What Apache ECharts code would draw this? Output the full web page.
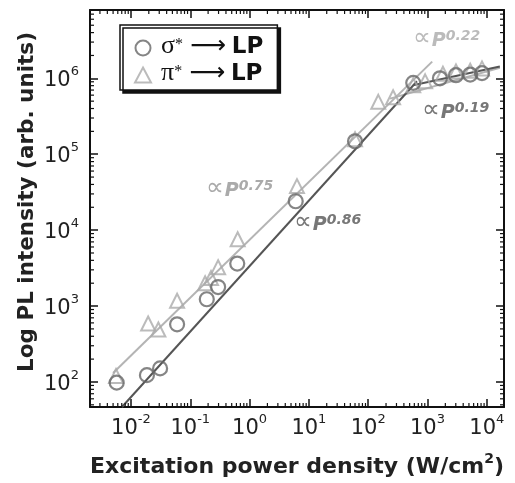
<!DOCTYPE html>
<html>
<head>
<meta charset="utf-8">
<script src="https://cdn.jsdelivr.net/npm/echarts@6/dist/echarts.min.js"></script>
<style>html,body{margin:0;padding:0;background:#fff}#c{width:515px;height:483px}</style>
</head>
<body>
<div id="c"></div>
<script>
// ---- data ----
const sigmaName = 'σ* → LP';
const piName = 'π* → LP';
const sigmaX = [0.00575, 0.0186, 0.031, 0.060, 0.19, 0.295, 0.62, 6.0, 60, 575, 1620, 3020, 5250, 8300];
const sigmaY = [98, 123, 151, 575, 1230, 1780, 3630, 24000, 148000, 871000, 1000000, 1100000, 1120000, 1170000];
const piX = [0.0056, 0.0195, 0.029, 0.060, 0.178, 0.224, 0.295, 0.63, 6.3, 60, 148, 263, 575, 912, 1820, 3020, 5250, 8300];
const piY = [120, 590, 490, 1175, 2000, 2340, 3240, 7600, 38000, 158000, 490000, 562000, 813000, 912000, 1150000, 1230000, 1260000, 1350000];
// fitted power laws (end points)
const sigmaFitLowX = [0.00705, 665];
const sigmaFitLowY = [46.8, 914000];
const sigmaFitHighX = [569, 16600];
const sigmaFitHighY = [810000, 1430000];
const piFitLowX = [0.0050, 1200];
const piFitLowY = [131, 1660000];
const piFitHighX = [234, 16600];
const piFitHighY = [540000, 1380000];
const fitLabels = ['0.75', '0.86', '0.22', '0.19'];
// axes
const xMin = 0.00204, xMax = 19500;
const yMin = 46.8, yMax = 7940000;
const minorMult = [2, 3, 4, 5, 6, 7, 8, 9];
const xDecades = [-3, -2, -1, 0, 1, 2, 3, 4];
const yDecades = [1, 2, 3, 4, 5, 6];
const xTitle = 'Excitation power density (W/cm';
const yTitle = 'Log PL intensity (arb. units)';

const FONT = 'DejaVu Sans';
const zip = (a, b) => a.map((v, i) => [v, b[i]]);
const minorVals = (decs, lo, hi) => {
  const out = [];
  decs.forEach(d => minorMult.forEach(m => { const v = m * Math.pow(10, d); if (v > lo && v < hi) out.push(v); }));
  return out;
};
const xMinor = minorVals(xDecades, xMin, xMax).map(v => [v, yMin]);
const yMinor = minorVals(yDecades, yMin, yMax).map(v => [xMin, v]);

const tickFmt = v => {
  const e = Math.log10(v);
  if (Math.abs(e - Math.round(e)) > 1e-6) return '';
  return '{b|10}{s|' + Math.round(e) + '}';
};
const tickRich = {
  b: { fontSize: 21, fontFamily: FONT, color: '#222', lineHeight: 26, verticalAlign: 'bottom' },
  s: { fontSize: 13, fontFamily: FONT, color: '#222', lineHeight: 13, verticalAlign: 'top' }
};
const axisCommon = {
  type: 'log', logBase: 10,
  axisLine: { show: true, lineStyle: { color: '#111', width: 2 } },
  axisTick: { show: true, inside: true, length: 8, lineStyle: { color: '#111', width: 1.5 } },
  splitLine: { show: false },
  minorTick: { show: false }
};

const chart = echarts.init(document.getElementById('c'), null, { renderer: 'canvas' });

const minorRender = (isX) => (params, api) => {
  const cs = params.coordSys;
  const p = api.coord([api.value(0), api.value(1)]);
  const len = 4;
  const st = { stroke: '#111', lineWidth: 1.2 };
  if (isX) {
    const b = cs.y + cs.height, t = cs.y;
    return { type: 'group', children: [
      { type: 'line', shape: { x1: p[0], y1: b, x2: p[0], y2: b - len }, style: st },
      { type: 'line', shape: { x1: p[0], y1: t, x2: p[0], y2: t + len }, style: st }
    ]};
  }
  const l = cs.x, r = cs.x + cs.width;
  return { type: 'group', children: [
    { type: 'line', shape: { x1: l, y1: p[1], x2: l + len, y2: p[1] }, style: st },
    { type: 'line', shape: { x1: r, y1: p[1], x2: r - len, y2: p[1] }, style: st }
  ]};
};

const ann = (txt, color) => ({
  text: '{a|∝}{p|P}{s|' + txt + '}',
  fill: color,
  rich: {
    a: { fontSize: 25, fontFamily: FONT, fill: color, lineHeight: 22, verticalAlign: 'bottom', padding: [0, 1, 0, 0] },
    p: { fontSize: 19, fontFamily: FONT, fontWeight: 'bold', fontStyle: 'italic', fill: color, lineHeight: 22, verticalAlign: 'bottom' },
    s: { fontSize: 14, fontFamily: FONT, fontWeight: 'bold', fontStyle: 'italic', fill: color, lineHeight: 13, verticalAlign: 'top' }
  }
});

const option = {
  backgroundColor: '#fff',
  animation: false,
  grid: { left: 90, right: 11, top: 10, bottom: 73 },
  xAxis: [
    Object.assign({}, axisCommon, {
      min: xMin, max: xMax, splitNumber: 7, position: 'bottom',
      axisLabel: { formatter: tickFmt, rich: tickRich, margin: 6, showMinLabel: false, showMaxLabel: false },
      name: '{t|' + xTitle + '}{s|2}{t|)}', nameLocation: 'middle', nameGap: 45,
      nameTextStyle: { rich: {
        t: { fontSize: 22, fontWeight: 'bold', fontFamily: FONT, color: '#222', lineHeight: 26, verticalAlign: 'bottom' },
        s: { fontSize: 14, fontWeight: 'bold', fontFamily: FONT, color: '#222', lineHeight: 14, verticalAlign: 'top' }
      } }
    }),
    Object.assign({}, axisCommon, {
      min: xMin, max: xMax, splitNumber: 7, position: 'top',
      axisLabel: { show: false }
    })
  ],
  yAxis: [
    Object.assign({}, axisCommon, {
      min: yMin, max: yMax, splitNumber: 5, position: 'left',
      axisLabel: { formatter: tickFmt, rich: tickRich, margin: 11, showMinLabel: false, showMaxLabel: false }
    }),
    Object.assign({}, axisCommon, {
      min: yMin, max: yMax, splitNumber: 5, position: 'right',
      axisLabel: { show: false }
    })
  ],
  legend: {
    data: [sigmaName, piName],
    orient: 'vertical', left: 120, top: 25,
    padding: [8, 14, 4, 14], itemGap: 1, itemWidth: 16, itemHeight: 15,
    backgroundColor: '#fff', borderColor: '#111', borderWidth: 1.5,
    shadowColor: '#111', shadowOffsetX: 3, shadowOffsetY: 3, shadowBlur: 0,
    formatter: name => name === sigmaName
      ? '{g|σ}{s|*}{a|⟶}{b|LP}'
      : '{g|π}{s|*}{a|⟶}{b|LP}',
    textStyle: { rich: {
      g: { fontSize: 26, fontFamily: 'Liberation Serif', color: '#111', lineHeight: 22, verticalAlign: 'bottom', padding: [0, 0, 0, 5] },
      s: { fontSize: 16, fontFamily: 'Liberation Serif', color: '#111', lineHeight: 12, verticalAlign: 'top' },
      a: { fontSize: 25, fontFamily: FONT, color: '#111', lineHeight: 22, verticalAlign: 'bottom', padding: [0, 6, 0, 7] },
      b: { fontSize: 23, fontWeight: 'bold', fontFamily: FONT, color: '#111', lineHeight: 22, verticalAlign: 'bottom' }
    } }
  },
  series: [
    { type: 'line', data: zip(piFitLowX, piFitLowY), symbol: 'none', lineStyle: { color: '#b4b4b4', width: 2 }, silent: true, z: 2 },
    { type: 'line', data: zip(piFitHighX, piFitHighY), symbol: 'none', lineStyle: { color: '#b4b4b4', width: 2 }, silent: true, z: 2 },
    { type: 'line', data: zip(sigmaFitLowX, sigmaFitLowY), symbol: 'none', lineStyle: { color: '#555', width: 2 }, silent: true, z: 2 },
    { type: 'line', data: zip(sigmaFitHighX, sigmaFitHighY), symbol: 'none', lineStyle: { color: '#555', width: 2 }, silent: true, z: 2 },
    { name: piName, type: 'scatter', data: zip(piX, piY), symbol: 'triangle', symbolSize: 14,
      itemStyle: { color: 'rgba(255,255,255,0)', borderColor: '#aaa', borderWidth: 2 }, z: 3 },
    { name: sigmaName, type: 'scatter', data: zip(sigmaX, sigmaY), symbol: 'circle', symbolSize: 14,
      itemStyle: { color: 'rgba(255,255,255,0)', borderColor: '#666', borderWidth: 2.2 }, z: 4 },
    { type: 'custom', data: xMinor, renderItem: minorRender(true), silent: true, z: 5, clip: false },
    { type: 'custom', data: yMinor, renderItem: minorRender(false), silent: true, z: 5, clip: false }
  ],
  graphic: [
    { type: 'text', x: 27, y: 202, rotation: Math.PI / 2,
      style: { text: yTitle, fontSize: 21.5, fontWeight: 'bold', fontFamily: FONT, fill: '#222', align: 'center', verticalAlign: 'middle' }, z: 10 },
    { type: 'text', left: 206, top: 176, style: ann(fitLabels[0], '#aaa'), z: 10 },
    { type: 'text', left: 294, top: 210, style: ann(fitLabels[1], '#777'), z: 10 },
    { type: 'text', left: 413, top: 26, style: ann(fitLabels[2], '#bbb'), z: 10 },
    { type: 'text', left: 422, top: 98, style: ann(fitLabels[3], '#777'), z: 10 }
  ]
};
chart.setOption(option);
</script>
</body>
</html>
